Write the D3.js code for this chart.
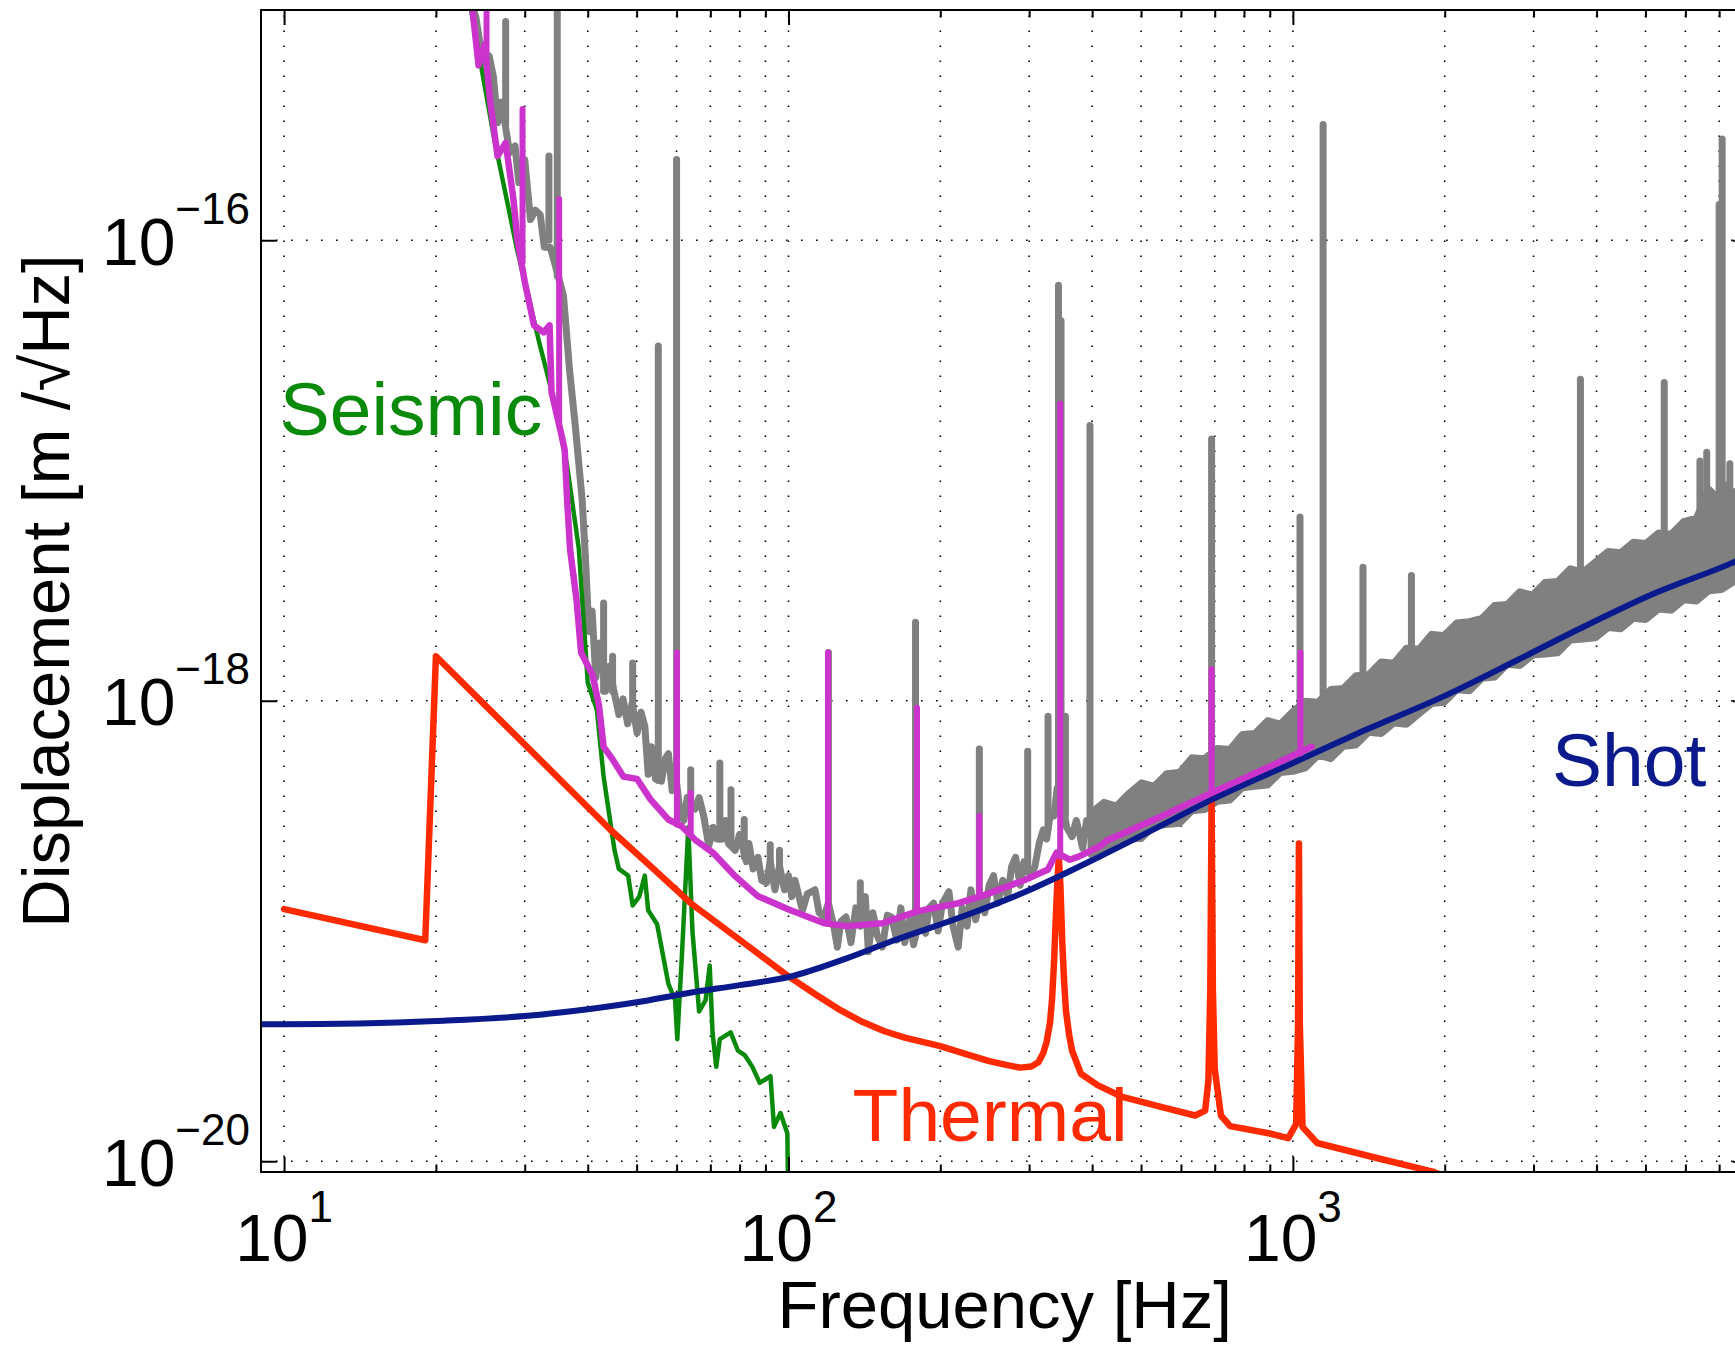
<!DOCTYPE html>
<html>
<head>
<meta charset="utf-8">
<script src="https://cdn.jsdelivr.net/npm/d3@7"></script>
<style>
  body { margin: 0; background: #fff; }
  svg { display: block; }
  text { font-family: "Liberation Sans", Arial, Helvetica, sans-serif; }
</style>
</head>
<body>
<svg id="chart"></svg>
<script>
// Noise budget: displacement spectra [m/sqrt(Hz)] vs frequency [Hz]

// measured spectrum, low frequency part (noisy line)
const measuredLine = [
  [23.0,1.26e-15],[24.0,9.33e-16],[24.8,5.89e-16],[25.5,6.31e-16],[26.0,5.13e-16],[26.5,3.24e-16],
  [27.0,3.98e-16],[28.0,2.40e-16],[28.7,2.57e-16],[29.2,1.78e-16],[30.0,2.24e-16],[30.8,1.23e-16],
  [31.5,1.35e-16],[32.2,1.29e-16],[32.8,9.33e-17],[33.7,9.33e-17],[34.4,7.94e-17],[35.8,5.75e-17],
  [36.8,2.75e-17],[37.8,1.55e-17],[39.0,7.41e-18],[39.6,4.07e-18],[40.2,2.00e-18],[40.8,2.45e-18],
  [41.5,1.26e-18],[42.3,1.78e-18],[43.4,1.10e-18],[44.2,1.41e-18],[45.0,1.12e-18],[46.1,8.71e-19],
  [47.0,1.02e-18],[48.0,7.94e-19],[49.0,9.77e-19],[50.1,7.24e-19],[51.0,8.91e-19],[51.9,7.76e-19],
  [52.7,4.79e-19],[53.5,6.31e-19],[54.5,4.57e-19],[56.0,4.47e-19],[57.0,5.62e-19],[57.8,5.89e-19],
  [58.8,4.07e-19],[59.5,5.13e-19],[61.0,3.24e-19],[62.0,3.02e-19],[63.0,3.80e-19],[64.0,3.55e-19],
  [65.3,3.39e-19],[66.5,3.80e-19],[67.9,3.16e-19],[69.5,2.34e-19],[71.0,2.82e-19],[72.0,2.51e-19],
  [73.8,2.51e-19],[75.0,3.02e-19],[76.0,2.40e-19],[78.4,2.24e-19],[80.0,2.63e-19],[82.5,2.00e-19],
  [83.5,2.40e-19],[85.1,1.86e-19],[87.0,2.09e-19],[88.5,1.66e-19],[90.4,1.62e-19],[92.0,2.00e-19],
  [94.0,1.51e-19],[96.0,1.91e-19],[98.2,1.51e-19],[100,1.74e-19],[101.5,1.41e-19],[103,1.66e-19],
  [106.6,1.23e-19],[109,1.45e-19],[112.9,1.51e-19],[115,1.20e-19],[117.5,1.15e-19],[120,1.32e-19],
  [123,1.05e-19],[125,8.51e-20],[127,1.10e-19],[130,1.15e-19],[133,8.91e-20],[136,1.26e-19],
  [139,1.05e-19],[142,1.41e-19],[144,8.13e-20],[147,1.20e-19],[150,9.55e-20],[153.5,8.51e-20],
  [157,1.17e-19],[160,1.15e-19],[164,9.12e-20],[167,1.26e-19],[170,8.91e-20],[174,1.12e-19],
  [177,8.71e-20],[183,1.20e-19],[187,9.77e-20],[190,1.26e-19],[194,1.32e-19],[198,1.00e-19],
  [202,1.32e-19],[208,1.48e-19],[212,1.05e-19],[217,8.51e-20],[221,1.26e-19],[226,1.05e-19],
  [230,1.51e-19],[235,1.12e-19],[240,1.41e-19],[245,1.20e-19],[250,1.58e-19],[255,1.74e-19],
  [260,1.32e-19],[266,1.66e-19],[272,1.41e-19],[277,1.91e-19],[282,2.09e-19],[288,1.58e-19],
  [293,2.00e-19],[303,1.74e-19],[308,1.91e-19],[314,2.40e-19],[320,2.75e-19],[325,2.51e-19],
  [330,3.16e-19],[336,3.16e-19],[341,4.17e-19],[350,3.55e-19],[356,2.82e-19],[365,2.57e-19],
  [372,3.02e-19],[377,2.69e-19],[383,2.29e-19],[390,3.02e-19],[396,2.63e-19],[402,2.95e-19],
  [410,2.40e-19]
];

// measured spectrum, high frequency part: [freq, lower edge, upper edge] of the noise band
const measuredBand = [
  [398,2.15e-19,3.26e-19],[422,2.18e-19,3.62e-19],[447,2.47e-19,3.49e-19],[473,2.50e-19,3.96e-19],
  [501,2.53e-19,4.40e-19],[531,2.87e-19,4.25e-19],[562,2.90e-19,4.82e-19],[596,2.94e-19,4.88e-19],
  [631,3.33e-19,5.66e-19],[668,3.37e-19,5.60e-19],[708,3.66e-19,6.21e-19],[750,3.71e-19,6.14e-19],
  [794,4.19e-19,7.13e-19],[841,4.25e-19,7.21e-19],[891,4.30e-19,8.19e-19],[944,4.88e-19,7.91e-19],
  [1000,4.94e-19,8.98e-19],[1059,5.11e-19,9.95e-19],[1122,5.80e-19,9.85e-19],[1189,5.61e-19,1.118e-18],
  [1259,6.35e-19,1.130e-18],[1334,6.43e-19,1.283e-18],[1413,7.30e-19,1.298e-18],[1496,7.21e-19,1.473e-18],
  [1585,8.00e-19,1.456e-18],[1679,7.91e-19,1.691e-18],[1778,8.78e-19,1.672e-18],[1884,9.73e-19,1.942e-18],
  [1995,9.85e-19,1.919e-18],[2113,1.116e-18,2.179e-18],[2239,1.105e-18,2.204e-18],[2371,1.253e-18,2.281e-18],
  [2512,1.268e-18,2.590e-18],[2661,1.439e-18,2.620e-18],[2818,1.422e-18,2.972e-18],[2985,1.578e-18,2.872e-18],
  [3162,1.596e-18,3.260e-18],[3350,1.615e-18,3.298e-18],[3548,1.834e-18,3.741e-18],[3758,1.855e-18,3.615e-18],
  [3981,1.876e-18,4.010e-18],[4217,2.081e-18,4.447e-18],[4467,2.056e-18,4.397e-18],[4732,2.281e-18,4.879e-18],
  [5012,2.256e-18,4.822e-18],[5309,2.501e-18,5.349e-18],[5623,2.472e-18,5.288e-18],[5957,2.742e-18,6.001e-18],
  [6310,2.712e-18,6.212e-18],[6683,3.007e-18,8.281e-18],[7079,3.043e-18,7.298e-18],[7499,3.297e-18,8.095e-18],
  [7762,3.337e-18,8.003e-18]
];

// lines in the measured spectrum: [freq, base, peak]
const measuredLines = [
  [27.5,3.2e-16,8.91e-16],[33.5,1.0e-16,2.32e-16],[34.8,7.0e-17,2.0e-15],[43.0,1.1e-18,2.66e-18],
  [44.8,1.1e-18,1.56e-18],[49.1,9.5e-19,1.46e-18],[55.2,4.5e-19,3.47e-17],[60.0,4.5e-19,2.24e-16],
  [64.0,3.5e-19,5.01e-19],[73.1,2.5e-19,5.37e-19],[76.9,2.4e-19,4.11e-19],[81.7,2.1e-19,3.05e-19],
  [92.0,1.8e-19,2.37e-19],[96.0,1.8e-19,2.24e-19],[120,1.3e-19,1.62e-18],[138.8,1.05e-19,1.62e-19],
  [178.6,1.1e-19,2.19e-18],[239,1.4e-19,6.17e-19],[298,1.8e-19,6.03e-19],[327,2.8e-19,8.57e-19],
  [343,3.5e-19,6.38e-17],[347,3.5e-19,4.47e-17],[354,3.2e-19,8.57e-19],[396,2.6e-19,1.57e-17],
  [690,4.5e-19,1.37e-17],[1033,7.0e-19,6.28e-18],[1148,7.0e-19,3.18e-16],[1377,1.0e-18,3.80e-18],
  [1718,1.2e-18,3.50e-18],[2068,1.4e-18,2.00e-18],[3716,2.8e-18,2.49e-17],[5448,4.2e-18,2.41e-17],
  [6412,5.0e-18,1.10e-17],[6614,5.0e-18,1.20e-17],[7000,5.5e-18,1.43e-16],[7096,5.5e-18,2.75e-16],
  [7297,5.5e-18,8.71e-18],[7350,5.5e-18,1.07e-17]
];

// total of the noise budget
const totalNoise = [
  [23.5,1.12e-15],[24.3,5.75e-16],[25.0,7.08e-16],[25.6,4.07e-16],[26.5,2.32e-16],[27.5,2.65e-16],
  [28.5,1.50e-16],[29.0,1.01e-16],[30.0,6.61e-17],[31.3,4.27e-17],[32.7,3.98e-17],[33.6,4.27e-17],
  [33.9,2.19e-17],[35.4,1.46e-17],[36.0,1.23e-17],[36.4,7.48e-18],[36.9,4.54e-18],[38.0,2.75e-18],
  [38.8,1.62e-18],[40.9,1.29e-18],[42.1,9.55e-19],[43.0,6.31e-19],[44.8,5.56e-19],[47.1,4.68e-19],
  [50.1,4.57e-19],[53.3,3.72e-19],[57.8,3.05e-19],[61.4,2.85e-19],[65.3,2.49e-19],[70.8,2.19e-19],
  [78.4,1.73e-19],[86.8,1.42e-19],[100.1,1.24e-19],[117.8,1.08e-19],[130.5,1.05e-19],[153.5,1.08e-19],
  [180.7,1.22e-19],[217,1.32e-19],[240,1.41e-19],[295,1.67e-19],[327,1.85e-19],[340,2.19e-19],
  [361,2.04e-19],[377,2.11e-19],[415,2.34e-19],[428,2.47e-19],[551,3.16e-19],[690,3.98e-19],
  [912,5.25e-19],[1089,6.31e-19]
];

// lines in the budget total: [freq, base, peak]
const totalLines = [
  [25.2,6.5e-16,2.0e-15],[29.7,8.0e-17,3.72e-16],[35.1,1.6e-17,1.51e-16],[60.1,2.9e-19,1.62e-18],
  [64.0,2.6e-19,3.98e-19],[119.8,1.08e-19,1.62e-18],[179.8,1.22e-19,9.33e-19],[239,1.41e-19,3.16e-19],
  [345.7,2.1e-19,1.95e-17],[690,3.98e-19,1.37e-18],[1035,5.9e-19,1.62e-18]
];

const seismicNoise = [
  [23.3,1.10e-15],[26.1,2.75e-16],[28.9,9.33e-17],[32.1,3.55e-17],[34.5,1.91e-17],[36.4,1.05e-17],
  [38.4,4.57e-18],[40.0,1.20e-18],[41.7,9.12e-19],[43.0,4.68e-19],[45.2,2.24e-19],[46.1,1.86e-19],
  [48.1,1.74e-19],[49.1,1.29e-19],[50.6,1.41e-19],[51.9,1.74e-19],[52.7,1.23e-19],[54.9,1.07e-19],
  [57.8,5.89e-20],[59.6,5.01e-20],[60.2,3.39e-20],[61.5,7.94e-20],[63.3,2.82e-19],[64.5,1.00e-19],
  [66.5,4.47e-20],[68.5,5.01e-20],[69.8,7.08e-20],[70.7,3.63e-20],[71.9,2.57e-20],[73.1,3.39e-20],
  [76.8,3.63e-20],[79.4,3.02e-20],[82.0,2.88e-20],[84.8,2.57e-20],[87.7,2.19e-20],[92.1,2.34e-20],
  [93.6,1.41e-20],[96.4,1.62e-20],[99.5,1.32e-20],[100,5.0e-21]
];

const thermalNoise = [
  [10,1.245e-19],[19.05,9.12e-20],[20,1.56e-18],[25,9.6e-19],[30,6.46e-19],[36,4.34e-19],
  [44.3,2.76e-19],[54,1.86e-19],[64,1.32e-19],[80,9.16e-20],[100,6.35e-20],[114,5.25e-20],
  [127,4.52e-20],[140,4.03e-20],[155,3.67e-20],[170,3.44e-20],[200,3.16e-20],[225,2.92e-20],
  [250,2.72e-20],[270,2.62e-20],[288,2.55e-20],[303,2.58e-20],[313,2.69e-20],[320,2.95e-20],
  [325,3.31e-20],[330,4.0e-20],[333,5.01e-20],[336,7.2e-20],[338,1.0e-19],[341,1.58e-19],
  [343.5,2.09e-19],[346,1.58e-19],[349,8.91e-20],[352,6.0e-20],[355,4.47e-20],[360,3.55e-20],
  [365,3.02e-20],[380,2.40e-20],[410,2.14e-20],[457,1.91e-20],[560,1.70e-20],[640,1.58e-20],
  [670,1.66e-20],[680,2.24e-20],[686,5.62e-20],[690,3.80e-19],[694,5.62e-20],[700,2.51e-20],
  [720,1.58e-20],[751,1.42e-20],[900,1.32e-20],[979,1.26e-20],[1015,1.45e-20],[1024,3.98e-20],
  [1028,2.40e-19],[1032,3.98e-20],[1045,1.41e-20],[1117,1.20e-20],[1500,1.02e-20],[1893,9.02e-21],
  [2300,7.59e-21]
];

const shotNoise = [
  [9,3.94e-20],[10,3.94e-20],[20,4.07e-20],[30,4.27e-20],[40,4.57e-20],[50,4.90e-20],[63,5.37e-20],
  [80,5.82e-20],[100,6.31e-20],[130,7.59e-20],[160,9.02e-20],[220,1.15e-19],[295,1.48e-19],
  [415,2.11e-19],[550,2.88e-19],[690,3.72e-19],[1000,5.37e-19],[1400,7.50e-19],[2000,1.05e-18],
  [2800,1.51e-18],[3780,2.10e-18],[5200,2.92e-18],[7450,3.98e-18],[8000,4.27e-18]
];

const xMajorTicks = [10, 100, 1000];
const xTickExponents = ["1", "2", "3"];
const yMajorTicks = [1e-20, 1e-18, 1e-16];
const yTickExponents = ["\u221220", "\u221218", "\u221216"];

const labels = [
  { text: "Seismic", f: 9.8, v: 1.43e-17, color: "#0a8a0a" },
  { text: "Thermal", f: 134, v: 1.22e-20, color: "#ff2a00" },
  { text: "Shot", f: 3263, v: 4.27e-19, color: "#0a1a8c" }
];

// ---- layout ----
const W = 1735, H = 1347;
const plotLeft = 261, plotTop = 10, plotW = 1487.4, plotH = 1162;
const plotRight = plotLeft + plotW, plotBottom = plotTop + plotH;

const svg = d3.select("#chart").attr("width", W).attr("height", H);
svg.append("rect").attr("width", W).attr("height", H).attr("fill", "#fff");

const x = d3.scaleLog().domain([9, 8000]).range([plotLeft, plotRight]);
const y = d3.scaleLog().domain([8.98e-21, 1e-15]).range([plotBottom, plotTop]);

svg.append("clipPath").attr("id", "plot-clip")
  .append("rect").attr("x", plotLeft).attr("y", plotTop).attr("width", plotW).attr("height", plotH);

// grid
const xGridVals = x.ticks().filter(t => t >= 10);
const grid = svg.append("g").attr("stroke", "#000").attr("stroke-width", 1.6)
  .attr("stroke-dasharray", "1.6,13.4");
grid.selectAll("line.vx").data(xGridVals).join("line")
  .attr("x1", d => x(d)).attr("x2", d => x(d))
  .attr("y1", plotBottom).attr("y2", plotTop);
grid.selectAll("line.hy").data(yMajorTicks).join("line")
  .attr("x1", plotLeft).attr("x2", plotRight)
  .attr("y1", d => y(d)).attr("y2", d => y(d));

// curves
const plot = svg.append("g").attr("clip-path", "url(#plot-clip)")
  .attr("fill", "none").attr("stroke-linejoin", "round").attr("stroke-linecap", "round");

const line = d3.line().x(d => x(d[0])).y(d => y(d[1]));
const smooth = d3.line().x(d => x(d[0])).y(d => y(d[1])).curve(d3.curveMonotoneX);
const band = d3.area().x(d => x(d[0])).y0(d => y(d[1])).y1(d => y(d[2]));

const gray = "#808080";
plot.append("path").datum(measuredLine).attr("d", line)
  .attr("stroke", gray).attr("stroke-width", 7);
plot.append("path").datum(measuredBand).attr("d", band)
  .attr("fill", gray).attr("stroke", gray).attr("stroke-width", 7);
plot.append("g").selectAll("line").data(measuredLines).join("line")
  .attr("x1", d => x(d[0])).attr("x2", d => x(d[0]))
  .attr("y1", d => y(d[1])).attr("y2", d => y(d[2]))
  .attr("stroke", gray).attr("stroke-width", 7);

plot.append("path").datum(seismicNoise).attr("d", line)
  .attr("stroke", "#0a8a0a").attr("stroke-width", 4.5);
plot.append("path").datum(thermalNoise).attr("d", line)
  .attr("stroke", "#ff2a00").attr("stroke-width", 6.5);
plot.append("path").datum(shotNoise).attr("d", smooth)
  .attr("stroke", "#0a1a8c").attr("stroke-width", 6);

const magenta = "#cc33cc";
plot.append("path").datum(totalNoise).attr("d", line)
  .attr("stroke", magenta).attr("stroke-width", 6.5);
plot.append("g").selectAll("line").data(totalLines).join("line")
  .attr("x1", d => x(d[0])).attr("x2", d => x(d[0]))
  .attr("y1", d => y(d[1])).attr("y2", d => y(d[2]))
  .attr("stroke", magenta).attr("stroke-width", 6);

// axes box and ticks
const xMinor = xGridVals.filter(t => !xMajorTicks.includes(t));
function noDomain(g) { g.select(".domain").remove(); g.selectAll(".tick line").attr("stroke", "#000").attr("stroke-width", 2); }

svg.append("g").attr("transform", `translate(0,${plotBottom})`)
  .call(d3.axisBottom(x).tickValues(xMajorTicks).tickSizeInner(-15).tickSizeOuter(0).tickFormat(""))
  .call(noDomain);
svg.append("g").attr("transform", `translate(0,${plotBottom})`)
  .call(d3.axisBottom(x).tickValues(xMinor).tickSizeInner(-7.5).tickSizeOuter(0).tickFormat(""))
  .call(noDomain);
svg.append("g").attr("transform", `translate(0,${plotTop})`)
  .call(d3.axisTop(x).tickValues(xMajorTicks).tickSizeInner(-15).tickSizeOuter(0).tickFormat(""))
  .call(noDomain);
svg.append("g").attr("transform", `translate(0,${plotTop})`)
  .call(d3.axisTop(x).tickValues(xMinor).tickSizeInner(-7.5).tickSizeOuter(0).tickFormat(""))
  .call(noDomain);
svg.append("g").attr("transform", `translate(${plotLeft},0)`)
  .call(d3.axisLeft(y).tickValues(yMajorTicks).tickSizeInner(-16).tickSizeOuter(0).tickFormat(""))
  .call(noDomain);
svg.append("g").attr("transform", `translate(${plotRight},0)`)
  .call(d3.axisRight(y).tickValues(yMajorTicks).tickSizeInner(-16).tickSizeOuter(0).tickFormat(""))
  .call(noDomain);

svg.append("rect").attr("x", plotLeft).attr("y", plotTop).attr("width", plotW).attr("height", plotH)
  .attr("fill", "none").attr("stroke", "#000").attr("stroke-width", 2);

// tick labels with superscript exponents
const mainSize = 66, supSize = 44;
svg.append("g").selectAll("text").data(xMajorTicks).join("text")
  .attr("x", d => x(d)).attr("y", plotBottom + 89)
  .attr("text-anchor", "middle").attr("font-size", mainSize).attr("fill", "#000")
  .each(function(d, i) {
    const t = d3.select(this);
    t.append("tspan").text("10");
    t.append("tspan").attr("dy", -39).attr("font-size", supSize).text(xTickExponents[i]);
  });
svg.append("g").selectAll("text").data(yMajorTicks).join("text")
  .attr("x", plotLeft - 11).attr("y", d => y(d) + 24.5)
  .attr("text-anchor", "end").attr("font-size", mainSize).attr("fill", "#000")
  .each(function(d, i) {
    const t = d3.select(this);
    t.append("tspan").text("10");
    t.append("tspan").attr("dy", -41).attr("font-size", supSize).text(yTickExponents[i]);
  });

// axis titles
svg.append("text")
  .attr("x", (plotLeft + plotRight) / 2).attr("y", plotBottom + 156)
  .attr("text-anchor", "middle").attr("font-size", 67).attr("fill", "#000")
  .text("Frequency [Hz]");
svg.append("text")
  .attr("transform", `translate(69,${(plotTop + plotBottom) / 2}) rotate(-90)`)
  .attr("text-anchor", "middle").attr("font-size", 67).attr("fill", "#000")
  .text("Displacement [m /\u221AHz]");

// curve names
svg.append("g").selectAll("text").data(labels).join("text")
  .attr("x", d => x(d.f)).attr("y", d => y(d.v))
  .attr("font-size", 75).attr("fill", d => d.color)
  .text(d => d.text);
</script>
</body>
</html>
